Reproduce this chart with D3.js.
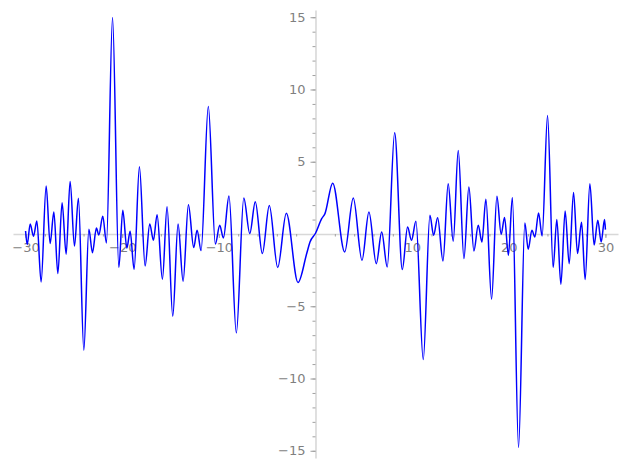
<!DOCTYPE html>
<html>
<head>
  <meta charset="utf-8">
  <title>Plot</title>
  <style>
    body { margin: 0; background: #fff; }
    .tick text { font-family: "DejaVu Sans", sans-serif; font-size: 13px; fill: #7f7f7f; }
  </style>
</head>
<body>
  <svg id="chart"></svg>
  <script src="https://cdnjs.cloudflare.com/ajax/libs/d3/7.8.5/d3.min.js"></script>
  <script>
    // curve samples (mostly the local peaks and troughs)
    const xs = [
      -30.0, -29.83, -29.52, -29.18, -28.83, -28.39, -27.87, -27.46, -27.07, -26.66,
      -26.22, -25.80, -25.39, -24.94, -24.53, -23.97, -23.45, -23.08, -22.67, -22.42,
      -22.01, -21.63, -21.0, -20.35, -19.94, -19.52, -19.18, -18.77, -18.22, -17.63,
      -17.15, -16.77, -16.39, -15.84, -15.36, -14.77, -14.22, -13.70, -13.15, -12.60,
      -12.25, -11.84, -11.09, -10.36, -9.91, -9.53, -8.95, -8.19, -7.42, -6.80,
      -6.23, -5.50, -4.78, -3.91, -3.02, -1.81, -0.91, -0.57, 0.0, 0.64,
      0.98, 1.78, 3.02, 3.91, 4.81, 5.53, 6.29, 6.85, 7.42, 8.19,
      8.98, 9.53, 9.93, 10.39, 11.15, 11.84, 12.22, 12.64, 13.19, 13.73,
      14.25, 14.77, 15.36, 15.87, 16.39, 16.84, 17.22, 17.63, 18.22, 18.77,
      19.21, 19.56, 19.96, 20.37, 21.01, 21.66, 22.01, 22.39, 22.70, 23.08,
      23.45, 24.01, 24.59, 24.97, 25.39, 25.83, 26.25, 26.70, 27.11, 27.53,
      27.90, 28.39, 28.83, 29.21, 29.56, 29.91, 30.0
    ];
    const ys = [
      0.21, -0.73, 0.69, -0.16, 0.90, -3.32, 3.32, -0.66, 1.52, -2.74,
      2.17, -1.40, 3.64, -0.83, 2.47, -8.04, 0.32, -1.29, 0.41, -0.07,
      1.22, -0.62, 14.98, -2.32, 1.64, -0.97, 0.19, -2.44, 4.66, -2.21,
      0.69, -0.44, 1.34, -3.13, 1.89, -5.69, 0.69, -3.27, 2.03, -0.94,
      0.26, -1.15, 8.83, -0.70, 0.60, -0.28, 2.63, -6.84, 2.49, 0.03,
      2.24, -1.35, 1.98, -2.32, 1.43, -3.36, -1.35, -0.55, 0.05, 1.06,
      1.41, 3.52, -1.24, 2.49, -1.82, 1.52, -2.05, 0.14, -2.28, 7.01,
      -2.46, 0.48, -0.44, 0.88, -8.68, 1.29, -0.09, 1.13, -1.87, 3.48,
      -0.50, 5.78, -1.70, 3.25, -1.17, 0.60, -0.55, 2.40, -4.51, 2.61,
      -0.02, 1.15, -1.47, 2.52, -14.76, 0.76, -1.06, 0.26, -0.21, 1.45,
      -0.14, 8.20, -2.32, 1.00, -3.48, 1.59, -2.05, 2.88, -1.35, 0.81,
      -3.15, 3.48, -0.76, 0.95, -0.55, 1.00, 0.30
    ];

    const xMajor = [-30, -20, -10, 10, 20, 30];
    const yMajor = [-15, -10, -5, 5, 10, 15];

    const width = 627, height = 468;
    const svg = d3.select("#chart").attr("width", width).attr("height", height);

    const x = d3.scaleLinear().domain([-31.3, 31.3]).range([13, 618]);
    const y = d3.scaleLinear().domain([15.5, -15.5]).range([10, 458]);

    const axisColor = "#d8d8d8";
    const tickColor = "#a0a0a0";

    // x axis: minor ticks every 2, major every 10
    const xMinor = d3.range(-30, 31, 2).filter(d => d !== 0);
    svg.append("g")
      .attr("transform", `translate(0,${y(0)})`)
      .call(d3.axisBottom(x).tickValues(xMinor).tickSize(2.5).tickSizeOuter(0).tickFormat(""))
      .call(g => g.select(".domain").attr("stroke", axisColor).attr("stroke-width", 1.6))
      .call(g => g.selectAll(".tick line").attr("stroke", tickColor));
    svg.append("g")
      .attr("transform", `translate(0,${y(0)})`)
      .call(d3.axisBottom(x).tickValues(xMajor).tickSize(4).tickPadding(5))
      .call(g => g.select(".domain").remove())
      .call(g => g.selectAll(".tick line").attr("stroke", tickColor));

    // y axis: minor every 1, major every 5
    const yMinor = d3.range(-15, 16, 1).filter(d => d !== 0);
    svg.append("g")
      .attr("transform", `translate(${x(0)},0)`)
      .call(d3.axisLeft(y).tickValues(yMinor).tickSize(3).tickSizeOuter(0).tickFormat(""))
      .call(g => g.select(".domain").attr("stroke", axisColor).attr("stroke-width", 1.6))
      .call(g => g.selectAll(".tick line").attr("stroke", tickColor));
    svg.append("g")
      .attr("transform", `translate(${x(0)},0)`)
      .call(d3.axisLeft(y).tickValues(yMajor).tickSize(5).tickPadding(5))
      .call(g => g.select(".domain").remove())
      .call(g => g.selectAll(".tick line").attr("stroke", tickColor));

    const line = d3.line()
      .x(i => x(xs[i]))
      .y(i => y(ys[i]))
      .curve(d3.curveMonotoneX);

    svg.append("path")
      .attr("d", line(d3.range(xs.length)))
      .attr("fill", "none")
      .attr("stroke", "#0000ff")
      .attr("stroke-width", 1.5)
      .attr("stroke-linejoin", "round");
  </script>
</body>
</html>
